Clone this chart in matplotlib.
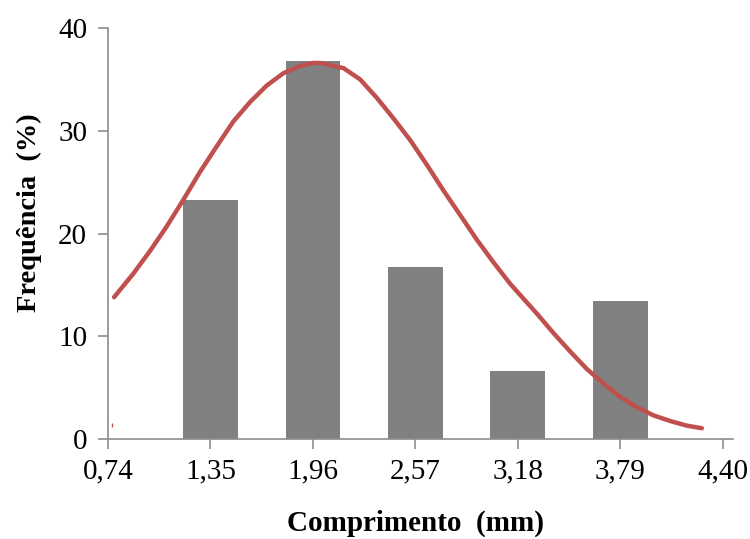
import matplotlib.pyplot as plt

# classes de comprimento (mm) e frequencia relativa (%)
tick_values = [0.74, 1.35, 1.96, 2.57, 3.18, 3.79, 4.40]
tick_labels = ["0,74", "1,35", "1,96", "2,57", "3,18", "3,79", "4,40"]
bar_centers = [1.35, 1.96, 2.57, 3.18, 3.79]
bar_freq = [23.3, 36.8, 16.7, 6.6, 13.4]

# curva normal ajustada (pontos lidos ao longo da curva)
curve_x = [0.776, 0.891, 0.990, 1.090, 1.189, 1.288, 1.388, 1.486, 1.586, 1.685,
           1.784, 1.884, 1.963, 2.003, 2.142, 2.241, 2.341, 2.440, 2.539, 2.638,
           2.737, 2.837, 2.936, 3.035, 3.135, 3.294, 3.393, 3.493, 3.592,
           3.691, 3.790, 3.889, 3.988, 4.088, 4.187, 4.276]
curve_y = [13.8, 16.1, 18.3, 20.7, 23.3, 26.0, 28.5, 30.9, 32.8, 34.4,
           35.6, 36.3, 36.6, 36.6, 36.1, 35.0, 33.2, 31.2, 29.1, 26.7,
           24.2, 21.8, 19.4, 17.2, 15.1, 12.2, 10.3, 8.5, 6.8,
           5.4, 4.1, 3.1, 2.3, 1.75, 1.3, 1.05]

plt.rcParams['font.family'] = ['Liberation Serif', 'DejaVu Serif']

fig = plt.figure(figsize=(7.5, 5.39), dpi=100)
ax = fig.add_axes([0.144, 0.1855, 0.833, 0.7625])

ax.bar(bar_centers, bar_freq, width=0.325, color='#808080', zorder=2)
ax.plot(curve_x, curve_y, color='#C0504D', lw=3.2, solid_capstyle='round',
        solid_joinstyle='round', zorder=3)
ax.plot([0.765], [1.4], marker='|', ms=3, color='#C0504D', zorder=3)

ax.set_xlim(0.74, 4.46)
ax.set_ylim(0, 40)
ax.set_xticks(tick_values)
ax.set_xticklabels(tick_labels)
ax.set_yticks([0, 10, 20, 30, 40])

for side in ['top', 'right']:
    ax.spines[side].set_visible(False)
for side in ['left', 'bottom']:
    ax.spines[side].set_color('#8c8c8c')
    ax.spines[side].set_linewidth(1.2)
ax.tick_params(axis='both', direction='out', length=7, width=1.2,
               color='#8c8c8c', labelsize=21)
ax.tick_params(axis='x', pad=7)
ax.tick_params(axis='y', pad=8)

ax.set_xlabel("Comprimento  (mm)", fontsize=21, fontweight='bold')
ax.set_ylabel("Frequência  (%)", fontsize=20.5, fontweight='bold')
ax.xaxis.set_label_coords(0.492, -0.173)
ax.yaxis.set_label_coords(-0.106, 0.55)

fig.savefig("out.png", dpi=100)
